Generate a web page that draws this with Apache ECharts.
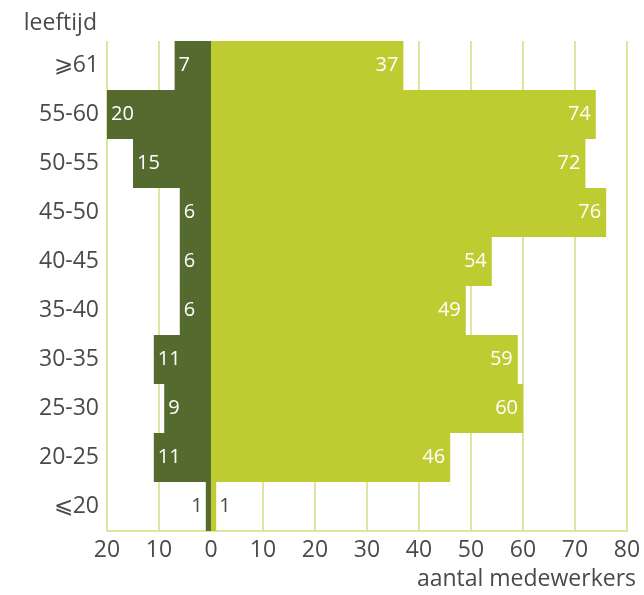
<!DOCTYPE html>
<html>
<head>
<meta charset="utf-8">
<script src="https://cdn.jsdelivr.net/npm/echarts@6/dist/echarts.min.js"></script>
<style>
html,body{margin:0;padding:0;background:#fff;}
#chart{width:644px;height:595px;}
</style>
</head>
<body>
<div id="chart"></div>
<script>
// Data (ordered bottom to top)
var categories = ['⩽20','20-25','25-30','30-35','35-40','40-45','45-50','50-55','55-60','⩾61'];
var leftValues = [1, 11, 9, 11, 6, 6, 6, 15, 20, 7];
var rightValues = [1, 46, 60, 59, 49, 54, 76, 72, 74, 37];
var xTicks = [-20, -10, 0, 10, 20, 30, 40, 50, 60, 70, 80];

var FONT = 'Open Sans';
var DARK = '#556a2f';
var LIGHT = '#bfcc31';
var GRID = '#dde5a0';
var TEXT = '#4a4a4a';

var chart = echarts.init(document.getElementById('chart'));

var leftData = leftValues.map(function (v) {
  var item = { value: -v };
  if (v <= 2) {
    item.label = { position: 'left', color: TEXT, distance: 3 };
  }
  return item;
});
var rightData = rightValues.map(function (v) {
  var item = { value: v };
  if (v <= 2) {
    item.label = { position: 'right', color: TEXT, distance: 3 };
  }
  return item;
});

chart.setOption({
  animation: false,
  title: {
    text: 'aantal medewerkers',
    right: 3,
    top: 563,
    textStyle: { fontFamily: FONT, fontSize: 23, fontWeight: 'normal', color: TEXT }
  },
  grid: { left: 107, right: 17, top: 41, bottom: 64 },
  xAxis: {
    type: 'value',
    min: xTicks[0],
    max: xTicks[xTicks.length - 1],
    interval: 10,
    axisLine: { show: true, onZero: false, lineStyle: { color: GRID, width: 2 } },
    axisTick: { show: false },
    splitLine: { show: true, lineStyle: { color: GRID, width: 2 } },
    axisLabel: {
      margin: 8,
      fontFamily: FONT, fontSize: 23, color: TEXT,
      formatter: function (v) { return Math.abs(v); }
    }
  },
  yAxis: {
    type: 'category',
    data: categories,
    name: 'leeftijd',
    nameLocation: 'end',
    nameGap: 6,
    nameTextStyle: { fontFamily: FONT, fontSize: 23, color: TEXT, align: 'right', padding: [0, 10, 0, 0] },
    axisLine: { show: false, onZero: false },
    axisTick: { show: false },
    splitLine: { show: false },
    axisLabel: { margin: 8, fontFamily: FONT, fontSize: 23, color: TEXT }
  },
  series: [
    {
      type: 'bar',
      stack: 'total',
      data: leftData,
      barCategoryGap: '0%',
      itemStyle: { color: DARK },
      label: {
        show: true,
        position: 'insideLeft',
        distance: 4,
        color: '#ffffff',
        fontFamily: FONT,
        fontSize: 20,
        formatter: function (p) { return Math.abs(p.value); }
      }
    },
    {
      type: 'bar',
      stack: 'total',
      data: rightData,
      barCategoryGap: '0%',
      itemStyle: { color: LIGHT },
      label: {
        show: true,
        position: 'insideRight',
        distance: 5,
        color: '#ffffff',
        fontFamily: FONT,
        fontSize: 20
      }
    }
  ]
});
</script>
</body>
</html>
